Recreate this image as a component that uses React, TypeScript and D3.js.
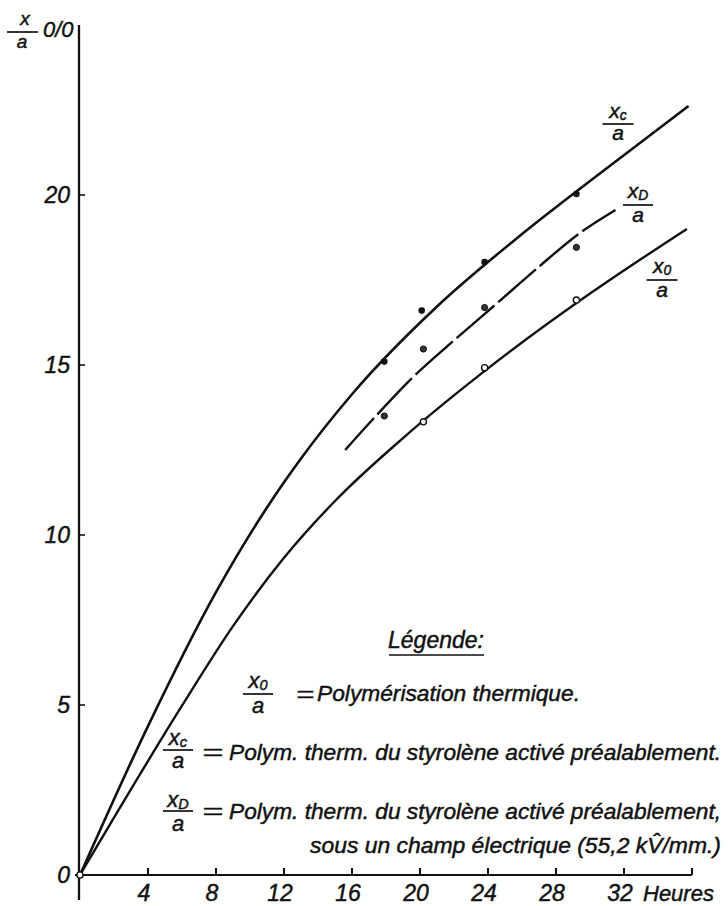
import React from "react";
import * as d3 from "d3";

// ---- data ----
const HOURS_XC = [0, 4, 8, 11, 13, 16, 21, 26, 30, 35.8];
const VAL_XC = [0, 4.38, 8.32, 10.81, 12.25, 14.14, 16.72, 18.85, 20.41, 22.62];

const HOURS_X0 = [0, 6, 9, 12, 15, 19, 24, 30, 35.7];
const VAL_X0 = [0, 4.98, 7.32, 9.33, 11.0, 12.85, 14.9, 17.1, 19.0];

const HOURS_XD = [15.6, 17.35, 19.5, 21.9, 24.4, 26.9, 29.4, 31.5];
const VAL_XD = [12.5, 13.47, 14.6, 15.68, 16.76, 17.85, 18.88, 19.56];

const PTS_XC_T = [17.9, 20.1, 23.8, 29.2];
const PTS_XC_V = [15.1, 16.6, 18.03, 20.03];
const PTS_XD_T = [17.9, 20.2, 23.8, 29.2];
const PTS_XD_V = [13.5, 15.47, 16.69, 18.46];
const PTS_X0_T = [0, 20.2, 23.8, 29.2];
const PTS_X0_V = [0, 13.33, 14.92, 16.91];

const X_TICKS = [4, 8, 12, 16, 20, 24, 28, 32, 36];
const X_TICK_LABELS = ["4", "8", "12", "16", "20", "24", "28", "32", ""];
const Y_TICKS = [0, 5, 10, 15, 20];
const Y_TICK_LABELS = ["0", "5", "10", "15", "20"];

const X_UNIT = "Heures";
const LEGEND_TITLE = "Légende:";
const LEGEND_X0 = "Polymérisation thermique.";
const LEGEND_XC = "Polym. therm. du styrolène activé préalablement.";
const LEGEND_XD = "Polym. therm. du styrolène activé préalablement,";
const LEGEND_XD2 = "sous un champ électrique (55,2 kV\u0302/mm.)";

const FONT = "'Liberation Sans', Arial, sans-serif";
const INK = "#111";
const TXT = { fontFamily: FONT, fontStyle: "italic", fill: INK, stroke: INK, strokeWidth: 0.45 } as const;

const x = d3.scaleLinear().domain([0, 36]).range([80, 692]);
const y = d3.scaleLinear().domain([0, 20]).range([875, 195]);

const zip = (a: number[], b: number[]) => a.map((t, i) => [t, b[i]] as [number, number]);
const line = d3
  .line<[number, number]>()
  .x((d) => x(d[0]))
  .y((d) => y(d[1]))
  .curve(d3.curveMonotoneX);

function Frac({ cx, bar, sub, size, w, numDy, denDy }: { cx: number; bar: number; sub: string; size: number; w: number; numDy: number; denDy: number }) {
  return (
    <g {...TXT}>
      <text x={cx} y={bar - numDy} textAnchor="middle" fontSize={size}>
        <tspan>x</tspan>
        <tspan fontSize={size * 0.66} dy={size * 0.08}>{sub}</tspan>
      </text>
      <line x1={cx - w / 2} x2={cx + w / 2} y1={bar} y2={bar} stroke={INK} strokeWidth={1.7} />
      <text x={cx} y={bar + denDy} textAnchor="middle" fontSize={size}>a</text>
    </g>
  );
}

export default function App() {
  return (
    <div style={{ position: "absolute", left: 0, top: 0 }}>
      <svg width={728} height={906} style={{ display: "block", background: "#fff" }}>
        {/* axes */}
        <line x1={79} x2={79} y1={25} y2={900} stroke={INK} strokeWidth={2.3} />
        <line x1={75} x2={692} y1={875} y2={875} stroke={INK} strokeWidth={2} />
        {X_TICKS.map((t, i) => (
          <g key={"xt" + i}>
            <line x1={x(t)} x2={x(t)} y1={875} y2={868} stroke={INK} strokeWidth={2} />
            <text x={x(t) - 4} y={901} textAnchor="middle" fontSize={23} {...TXT}>
              {X_TICK_LABELS[i]}
            </text>
          </g>
        ))}
        <text x={643} y={901} fontSize={22} {...TXT}>{X_UNIT}</text>
        {Y_TICKS.map((v, i) => (
          <g key={"yt" + i}>
            {v > 0 && <line x1={80} x2={85} y1={y(v)} y2={y(v)} stroke={INK} strokeWidth={1.6} />}
            <text x={70} y={y(v) + 8} textAnchor="end" fontSize={23} {...TXT}>
              {Y_TICK_LABELS[i]}
            </text>
          </g>
        ))}

        {/* y axis title */}
        <g {...TXT}>
          <text x={25} y={25} textAnchor="middle" fontSize={19}>x</text>
          <line x1={7} x2={38} y1={32} y2={32} stroke={INK} strokeWidth={1.7} />
          <text x={22} y={48} textAnchor="middle" fontSize={19}>a</text>
          <text x={43} y={37} fontSize={22}>0/0</text>
        </g>

        {/* curves */}
        <path d={line(zip(HOURS_XC, VAL_XC)) || ""} fill="none" stroke={INK} strokeWidth={2.6} />
        <path d={line(zip(HOURS_X0, VAL_X0)) || ""} fill="none" stroke={INK} strokeWidth={2.4} />
        <path d={line(zip(HOURS_XD, VAL_XD)) || ""} fill="none" stroke={INK} strokeWidth={2.4} strokeDasharray="50 5" strokeDashoffset={7} />

        {/* measured points */}
        {PTS_XC_T.map((t, i) => (
          <circle key={"pc" + i} cx={x(t)} cy={y(PTS_XC_V[i])} r={3.3} fill={INK} />
        ))}
        {PTS_XD_T.map((t, i) => (
          <circle key={"pd" + i} cx={x(t)} cy={y(PTS_XD_V[i])} r={3.1} fill="#333" stroke={INK} strokeWidth={1} />
        ))}
        {PTS_X0_T.map((t, i) => (
          <circle key={"p0" + i} cx={x(t)} cy={y(PTS_X0_V[i])} r={3.1} fill="#fff" stroke={INK} strokeWidth={1.4} />
        ))}

        {/* curve labels */}
        <Frac cx={618} bar={124} sub="c" size={21} w={31} numDy={6} denDy={16} />
        <Frac cx={638} bar={205} sub="D" size={21} w={30} numDy={7} denDy={17} />
        <Frac cx={662} bar={280} sub="0" size={21} w={31} numDy={7} denDy={17} />

        {/* legend */}
        <g {...TXT}>
          <text x={436} y={648} textAnchor="middle" fontSize={23}>{LEGEND_TITLE}</text>
          <line x1={389} x2={484} y1={655} y2={655} stroke={INK} strokeWidth={1.7} />

          <text x={296} y={702} fontSize={22} textLength={18} lengthAdjust="spacingAndGlyphs">=</text>
          <text x={317} y={701} fontSize={22} textLength={263} lengthAdjust="spacingAndGlyphs">{LEGEND_X0}</text>

          <text x={202} y={760} fontSize={22} textLength={21} lengthAdjust="spacingAndGlyphs">=</text>
          <text x={229} y={760} fontSize={22} textLength={492} lengthAdjust="spacingAndGlyphs">{LEGEND_XC}</text>

          <text x={202} y={819} fontSize={22} textLength={21} lengthAdjust="spacingAndGlyphs">=</text>
          <text x={229} y={819} fontSize={22} textLength={492} lengthAdjust="spacingAndGlyphs">{LEGEND_XD}</text>
          <text x={310} y={853} fontSize={22} textLength={411} lengthAdjust="spacingAndGlyphs">{LEGEND_XD2}</text>
        </g>
        <Frac cx={258} bar={694} sub="0" size={22} w={30} numDy={6} denDy={19} />
        <Frac cx={178} bar={750} sub="c" size={22} w={30} numDy={5} denDy={18} />
        <Frac cx={178} bar={811} sub="D" size={22} w={30} numDy={4} denDy={20} />
      </svg>
    </div>
  );
}
